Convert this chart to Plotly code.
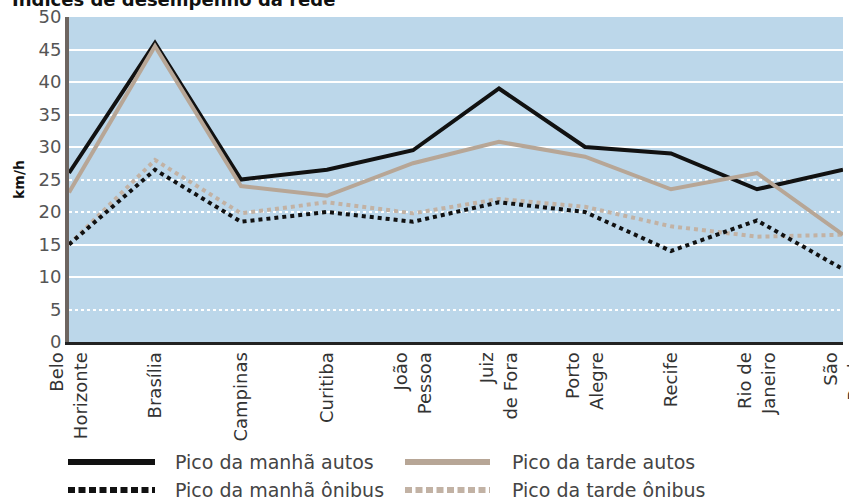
import plotly.graph_objects as go

cities = ["Belo<br>Horizonte", "Brasília", "Campinas", "Curitiba", "João<br>Pessoa",
          "Juiz<br>de Fora", "Porto<br>Alegre", "Recife", "Rio de<br>Janeiro", "São<br>Paulo"]
manha_autos = [26, 46, 25, 26.5, 29.5, 39, 30, 29, 23.5, 26.5]
tarde_autos = [23, 45.5, 24, 22.5, 27.5, 30.8, 28.5, 23.5, 26, 16.5]
manha_onibus = [15, 26.5, 18.5, 20, 18.5, 21.5, 20, 14, 18.7, 11.2]
tarde_onibus = [15, 28, 19.8, 21.5, 19.8, 22, 20.8, 17.8, 16.2, 16.5]
y_ticks = [0, 5, 10, 15, 20, 25, 30, 35, 40, 45, 50]
solid_grid = [10, 15, 30, 35, 40, 45]
dotted_grid = [5, 20, 25]

BLACK = "#111111"
TAN = "#b7a696"
TAN_DOT = "#c2b2a4"
FONT = "DejaVu Sans"

W, H = 849, 500
L, T, R, B = 69, 17, 843, 342

x = list(range(len(cities)))
fig = go.Figure()
fig.add_trace(go.Scatter(x=x, y=tarde_onibus, mode="lines", name="Pico da tarde ônibus",
                         line=dict(color=TAN_DOT, width=4, dash="4px,4px"), showlegend=False))
fig.add_trace(go.Scatter(x=x, y=manha_onibus, mode="lines", name="Pico da manhã ônibus",
                         line=dict(color=BLACK, width=4, dash="4px,4px"), showlegend=False))
fig.add_trace(go.Scatter(x=x, y=manha_autos, mode="lines", name="Pico da manhã autos",
                         line=dict(color=BLACK, width=4), showlegend=False))
fig.add_trace(go.Scatter(x=x, y=tarde_autos, mode="lines", name="Pico da tarde autos",
                         line=dict(color=TAN, width=4), showlegend=False))

# invisible traces to anchor the grid axes
fig.add_trace(go.Scatter(x=[0], y=[0], yaxis="y2", mode="markers", marker=dict(opacity=0),
                         showlegend=False, hoverinfo="skip"))
fig.add_trace(go.Scatter(x=[0], y=[0], yaxis="y3", mode="markers", marker=dict(opacity=0),
                         showlegend=False, hoverinfo="skip"))

fig.update_layout(
    width=W, height=H,
    margin=dict(l=L, r=W - R, t=T, b=H - B, autoexpand=False),
    paper_bgcolor="white",
    plot_bgcolor="#bcd7ea",
    font=dict(family=FONT, color="#333333"),
    hovermode=False,
    xaxis=dict(range=[0, 9], tickmode="array", tickvals=x, ticktext=cities,
               tickangle=-90, tickfont=dict(family=FONT, size=18, color="#333333"),
               showgrid=False, zeroline=False, showline=True, linecolor="#222222",
               linewidth=3, ticks="", automargin=False, ticklabeloverflow="allow"),
    yaxis=dict(range=[0, 50], tickmode="array", tickvals=y_ticks,
               tickfont=dict(family=FONT, size=18, color="#555555"),
               showgrid=False, zeroline=False, showline=True, linecolor="#6d6560",
               linewidth=4, ticks="", automargin=False, ticklabeloverflow="allow",
               title=dict(text="<b>km/h</b>", font=dict(family=FONT, size=14, color="#111111"),
                          standoff=12)),
    yaxis2=dict(range=[0, 50], overlaying="y", tickmode="array", tickvals=solid_grid,
                showticklabels=False, showgrid=True, gridcolor="white", gridwidth=2,
                zeroline=False, showline=False, ticks="", automargin=False),
    yaxis3=dict(range=[0, 50], overlaying="y", tickmode="array", tickvals=dotted_grid,
                showticklabels=False, showgrid=True, gridcolor="white", gridwidth=2,
                griddash="dot", zeroline=False, showline=False, ticks="", automargin=False),
)

# helpers: page pixel -> paper coords
def px_x(px):
    return (px - L) / (R - L)

def px_y(py):
    return (B - py) / (B - T)

# title, mostly cut off at the top edge as in the reference
fig.add_annotation(text="<b>Índices de desempenho da rede</b>", xref="paper", yref="paper",
                   x=px_x(10), y=px_y(12), xanchor="left", yanchor="bottom", showarrow=False,
                   font=dict(family=FONT, size=18, color="#111111"))

legend_items = [
    ("Pico da manhã autos", BLACK, "solid", 68, 155, 173, 462),
    ("Pico da tarde autos", TAN, "solid", 405, 490, 510, 462),
    ("Pico da manhã ônibus", BLACK, "7px,3.5px", 68, 155, 173, 490),
    ("Pico da tarde ônibus", TAN_DOT, "7px,3.5px", 405, 490, 510, 490),
]
for label, color, dash, x0, x1, tx, ty in legend_items:
    fig.add_shape(type="line", xref="paper", yref="paper",
                  x0=px_x(x0), x1=px_x(x1), y0=px_y(ty), y1=px_y(ty),
                  line=dict(color=color, width=6, dash=dash))
    fig.add_annotation(text=label, xref="paper", yref="paper", x=px_x(tx), y=px_y(ty),
                       xanchor="left", yanchor="middle", showarrow=False,
                       font=dict(family=FONT, size=19, color="#444444"))

fig.write_html("out.html", config={"displayModeBar": False, "staticPlot": True},
               post_script="document.body.style.margin='0';document.body.style.overflow='hidden';")
